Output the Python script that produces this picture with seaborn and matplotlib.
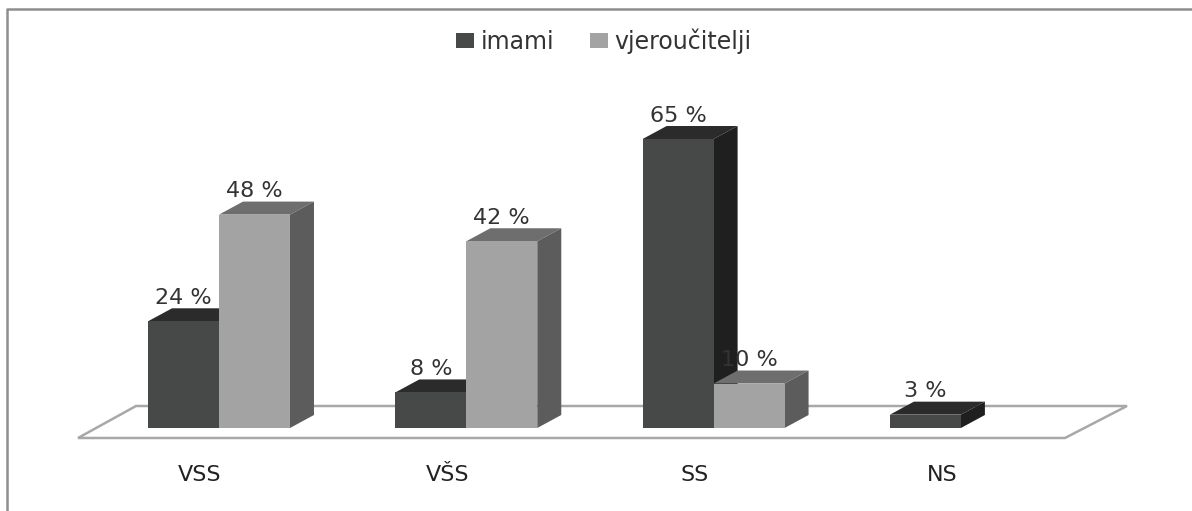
import matplotlib
matplotlib.use("Agg")
import matplotlib.pyplot as plt
import matplotlib.transforms as mtrans
from matplotlib.lines import Line2D
from matplotlib.patches import Polygon
import pandas as pd
import seaborn as sns

categories = ["VSS", "VŠS", "SS", "NS"]
imami = [24, 8, 65, 3]
vjeroucitelji = [48, 42, 10, None]
series_names = ["imami", "vjeroučitelji"]

W, H = 1192, 511
sns.set_theme(style="white")
plt.rcParams["font.family"] = ["DejaVu Sans"]

df = pd.DataFrame({
    "cat": categories * 2,
    "val": imami + vjeroucitelji,
    "who": [series_names[0]] * 4 + [series_names[1]] * 4,
})

fig = plt.figure(figsize=(W / 100, H / 100), dpi=100)
axes_bottom = 455
ax = fig.add_axes([0, 1 - axes_bottom / H, 1, axes_bottom / H])
ax.set_facecolor("none")

FRONT = ["#474948", "#a3a3a3"]
TOP = ["#2a2b2a", "#6e6e6e"]
SIDE = ["#1e1f1e", "#5c5c5c"]

sns.barplot(data=df, x="cat", y="val", hue="who", ax=ax, palette=FRONT,
            width=0.574, gap=0, saturation=1, dodge=True, linewidth=0, zorder=5)

# pixel scales
PX_X = 247.3
PX_Y = 4.446
X0 = 219
Y0 = 428
ax.set_xlim(-X0 / PX_X, (W - X0) / PX_X)
ax.set_ylim(-(axes_bottom - Y0) / PX_Y, Y0 / PX_Y)
dx = 24 / PX_X
dy = 13 / PX_Y


def px(x, y):
    return ((x - X0) / PX_X, (Y0 - y) / PX_Y)


# floor of the 3D plot
floor = Polygon([px(78, 438), px(136, 406), px(1127, 406), px(1065, 438)],
                closed=True, facecolor="white", edgecolor="#a8a8a8", lw=1.8, zorder=1)
ax.add_patch(floor)

# depth faces derived from each bar drawn by seaborn
for s, container in enumerate(ax.containers):
    for bar in container:
        h = bar.get_height()
        if not h or h != h:
            continue
        x = bar.get_x()
        w = bar.get_width()
        z = 2 + s * 3
        bar.set_zorder(z + 1)
        ax.add_patch(Polygon([(x, h), (x + dx, h + dy), (x + w + dx, h + dy), (x + w, h)],
                             closed=True, facecolor=TOP[s], edgecolor="none", zorder=z))
        ax.add_patch(Polygon([(x + w, 0), (x + w + dx, dy), (x + w + dx, h + dy), (x + w, h)],
                             closed=True, facecolor=SIDE[s], edgecolor="none", zorder=z))
    labels = [f"{v:.0f} %" if v == v and v else "" for v in container.datavalues]
    ax.bar_label(container, labels=labels, padding=9.5, fontsize=16, color="#333333", zorder=20)

# category labels, shifted left as in the reference
ax.tick_params(axis="x", length=0, pad=7.2, labelsize=16, labelcolor="#222222")
ax.tick_params(axis="y", left=False, labelleft=False)
shift = mtrans.ScaledTranslation(-19 / 100, 0, fig.dpi_scale_trans)
for lab in ax.get_xticklabels():
    lab.set_transform(lab.get_transform() + shift)
ax.set_xlabel("")
ax.set_ylabel("")
ax.grid(False)
sns.despine(ax=ax, left=True, bottom=True)

# legend
handles, names = ax.get_legend_handles_labels()
ax.legend(handles, names, loc="center left", bbox_to_anchor=(456 / W, 1 - 41 / axes_bottom),
          ncol=2, frameon=False, fontsize=17, labelcolor="#333333", handlelength=0.78,
          handleheight=0.55, handletextpad=0.27, columnspacing=1.5, borderpad=0,
          borderaxespad=0)

# outer picture frame (left and top only)
fig.add_artist(Line2D([6.5 / W, 6.5 / W, 1], [0, 1 - 9 / H, 1 - 9 / H],
                      transform=fig.transFigure, color="#8e8e8e", lw=1.8))

fig.savefig("out.png", dpi=100, facecolor="white")
